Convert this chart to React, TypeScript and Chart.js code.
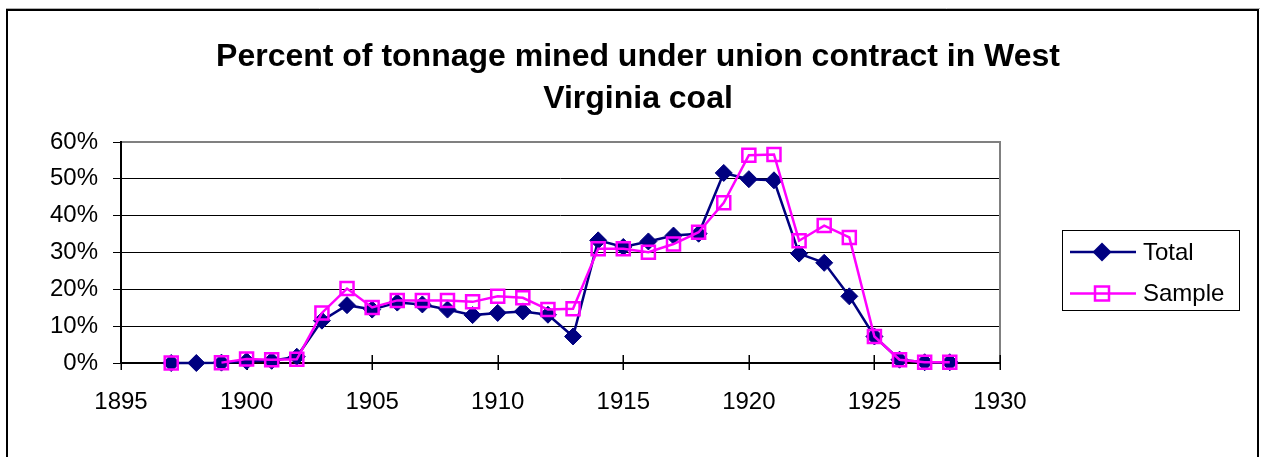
import React, { useEffect, useRef } from 'react';
import { Chart, registerables } from 'chart.js';

Chart.register(...registerables);

// ---- data ----
const years = [
  1897, 1898, 1899, 1900, 1901, 1902, 1903, 1904, 1905, 1906, 1907, 1908, 1909, 1910, 1911, 1912,
  1913, 1914, 1915, 1916, 1917, 1918, 1919, 1920, 1921, 1922, 1923, 1924, 1925, 1926, 1927, 1928,
];
const totalValues = [
  0, 0, 0.1, 0.5, 0.6, 1.7, 11.5, 15.7, 14.5, 16.4, 15.9, 14.5, 13.0, 13.6, 14.0, 13.1,
  7.2, 33.3, 31.5, 33.0, 34.6, 35.1, 51.6, 49.9, 49.6, 29.7, 27.2, 18.1, 7.2, 0.9, 0.2, 0.2,
];
const sampleValues: (number | null)[] = [
  0, null, 0.1, 1.1, 0.9, 1.0, 13.6, 20.2, 15.1, 17.0, 17.0, 17.0, 16.6, 18.1, 17.7, 14.5,
  14.7, 31.0, 31.0, 30.1, 32.3, 35.5, 43.5, 56.4, 56.6, 33.2, 37.3, 34.1, 7.2, 0.9, 0.2, 0.2,
];
const seriesNames = ['Total', 'Sample'];
const titleLines = ['Percent of tonnage mined under union contract in West', 'Virginia coal'];
const xMin = 1895;
const xMax = 1930;
const xStep = 5;
const yMin = 0;
const yMax = 60;
const yStep = 10;

const FONT = '"Liberation Sans", Arial, Helvetica, sans-serif';
const NAVY = '#000080';
const MAGENTA = '#FF00FF';

const framePlugin = {
  id: 'outerFrame',
  beforeDraw(chart: any) {
    const ctx = chart.ctx;
    ctx.save();
    ctx.fillStyle = '#ffffff';
    ctx.fillRect(0, 0, chart.width, chart.height);
    ctx.strokeStyle = '#b0b0b0';
    ctx.lineWidth = 1;
    ctx.beginPath();
    ctx.moveTo(6, 8.5);
    ctx.lineTo(1260, 8.5);
    ctx.stroke();
    ctx.strokeStyle = '#000000';
    ctx.lineWidth = 2;
    ctx.strokeRect(7, 10, 1251, 520);
    ctx.restore();
  },
};

const plotDecorPlugin = {
  id: 'plotDecor',
  beforeDatasetsDraw(chart: any) {
    const ctx = chart.ctx;
    const { left, right, top, bottom } = chart.chartArea;
    ctx.save();
    // gray plot-area border (top & right)
    ctx.strokeStyle = '#808080';
    ctx.lineWidth = 2;
    ctx.beginPath();
    ctx.moveTo(left, top);
    ctx.lineTo(right, top);
    ctx.lineTo(right, bottom);
    ctx.stroke();
    // black axes
    ctx.strokeStyle = '#000000';
    ctx.lineWidth = 2;
    ctx.beginPath();
    ctx.moveTo(left, top - 1);
    ctx.lineTo(left, bottom);
    ctx.lineTo(right + 1, bottom);
    ctx.stroke();
    // x tick marks crossing the axis
    const xs = chart.scales.x;
    ctx.lineWidth = 1.5;
    ctx.beginPath();
    xs.ticks.forEach((t: any) => {
      const px = Math.round(xs.getPixelForValue(t.value)) + 0.25;
      ctx.moveTo(px, bottom - 8);
      ctx.lineTo(px, bottom + 7);
    });
    ctx.stroke();
    ctx.restore();
  },
};

function drawDiamond(ctx: CanvasRenderingContext2D, x: number, y: number, r: number, color: string) {
  ctx.beginPath();
  ctx.moveTo(x, y - r);
  ctx.lineTo(x + r, y);
  ctx.lineTo(x, y + r);
  ctx.lineTo(x - r, y);
  ctx.closePath();
  ctx.fillStyle = color;
  ctx.fill();
}

function drawSquare(ctx: CanvasRenderingContext2D, x: number, y: number, half: number, color: string) {
  ctx.lineWidth = 2.5;
  ctx.strokeStyle = color;
  ctx.strokeRect(x - half, y - half, half * 2, half * 2);
}

const legendPlugin = {
  id: 'boxLegend',
  afterDraw(chart: any) {
    const ctx = chart.ctx;
    ctx.save();
    ctx.strokeStyle = '#000000';
    ctx.lineWidth = 1;
    ctx.strokeRect(1062.5, 230.5, 177, 80);
    chart.data.datasets.forEach((ds: any, i: number) => {
      const y = 252 + i * 41.5;
      ctx.strokeStyle = ds.borderColor;
      ctx.lineWidth = ds.borderWidth;
      ctx.beginPath();
      ctx.moveTo(1070, y);
      ctx.lineTo(1136, y);
      ctx.stroke();
      if (ds.pointStyle === 'rectRot') drawDiamond(ctx, 1102, y, 9.5, ds.pointBackgroundColor);
      else drawSquare(ctx, 1102, y, 7, ds.pointBorderColor);
      ctx.fillStyle = '#000000';
      ctx.font = `24px ${FONT}`;
      ctx.textAlign = 'left';
      ctx.textBaseline = 'middle';
      ctx.fillText(ds.label, 1143, y + 1);
    });
    ctx.restore();
  },
};

export default function App() {
  const canvasRef = useRef<HTMLCanvasElement | null>(null);

  useEffect(() => {
    if (!canvasRef.current) return;
    const totalData = years.map((yr, i) => ({ x: yr, y: totalValues[i] }));
    const sampleData = years.map((yr, i) => ({ x: yr, y: sampleValues[i] }));
    const chart = new Chart(canvasRef.current, {
      type: 'line',
      data: {
        datasets: [
          {
            label: seriesNames[0],
            data: totalData as any,
            borderColor: NAVY,
            backgroundColor: NAVY,
            borderWidth: 2.5,
            pointStyle: 'rectRot',
            pointRadius: 8.5,
            pointBorderWidth: 1,
            pointBorderColor: NAVY,
            pointBackgroundColor: NAVY,
            tension: 0,
            clip: false as any,
            order: 2,
            xAxisID: 'x',
            yAxisID: 'y',
          },
          {
            label: seriesNames[1],
            data: sampleData as any,
            borderColor: MAGENTA,
            backgroundColor: 'rgba(0,0,0,0)',
            borderWidth: 2.5,
            pointStyle: 'rect',
            pointRadius: 9.2,
            pointBorderWidth: 2.5,
            pointBorderColor: MAGENTA,
            pointBackgroundColor: 'rgba(0,0,0,0)',
            tension: 0,
            spanGaps: false,
            clip: false as any,
            order: 1,
            xAxisID: 'x',
            yAxisID: 'y',
          },
        ],
      },
      options: {
        responsive: false,
        animation: false,
        devicePixelRatio: 1,
        layout: { padding: { left: 15, right: 0, top: 0, bottom: 0 } },
        plugins: {
          legend: { display: false },
          tooltip: { enabled: false },
          title: {
            display: true,
            text: titleLines,
            color: '#000000',
            font: { family: FONT, size: 32, weight: 'bold', lineHeight: 1.3125 },
            padding: { top: 36, bottom: 22 },
          },
        },
        scales: {
          x: {
            type: 'linear',
            position: 'bottom',
            min: xMin,
            max: xMax,
            grid: { display: false, drawTicks: false },
            border: { display: false },
            ticks: {
              stepSize: xStep,
              color: '#000000',
              font: { family: FONT, size: 24 },
              padding: 25,
              maxRotation: 0,
              autoSkip: false,
              callback: (v: any) => String(v),
            },
            afterFit: (s: any) => {
              s.height = 94;
            },
          },
          y: {
            type: 'linear',
            position: 'left',
            min: yMin,
            max: yMax,
            grid: {
              color: (c: any) => (c.tick && c.tick.value === yMax ? 'rgba(0,0,0,0)' : '#000000'),
              tickColor: '#000000',
              lineWidth: 1,
              drawTicks: true,
              tickLength: 8,
            },
            border: { display: false },
            ticks: {
              stepSize: yStep,
              color: '#000000',
              font: { family: FONT, size: 24 },
              padding: 15,
              callback: (v: any) => `${v}%`,
            },
            afterFit: (s: any) => {
              s.width = 106;
            },
          },
          yR: {
            type: 'linear',
            position: 'right',
            display: true,
            grid: { display: false, drawTicks: false },
            border: { display: false },
            ticks: { display: false },
            afterFit: (s: any) => {
              s.width = 261;
            },
          },
        },
      } as any,
      plugins: [framePlugin, plotDecorPlugin, legendPlugin],
    });
    return () => chart.destroy();
  }, []);

  return (
    <div style={{ position: 'absolute', left: 0, top: 0, width: 1261, height: 457 }}>
      <canvas ref={canvasRef} width={1261} height={457} style={{ width: 1261, height: 457, display: 'block' }} />
    </div>
  );
}
